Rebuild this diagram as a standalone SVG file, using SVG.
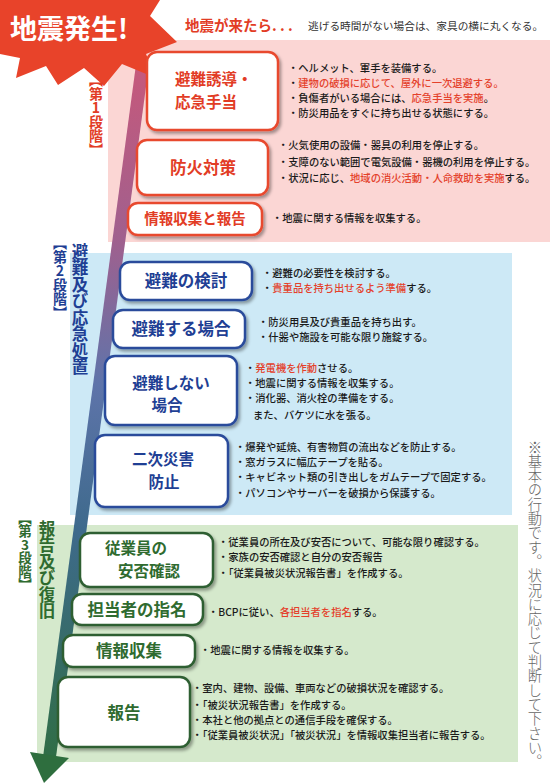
<svg xmlns="http://www.w3.org/2000/svg" width="550" height="783" viewBox="0 0 550 783">
<defs>
<style>
text{font-family:"Noto Sans CJK JP","Noto Sans CJK SC",sans-serif;}
.b{font-size:10.3px;fill:#1a1a1a;font-weight:500;}
.r{fill:#e4412b;}
.lbl{font-size:16.5px;font-weight:700;text-anchor:middle;}
.l2{font-size:15.5px;font-weight:700;}
.mid{text-anchor:middle;}
.lr{fill:#e23c25;}
.lb{fill:#1f3f94;}
.lg{fill:#2f6b2f;}
.box{fill:#fff;stroke-width:2.5;filter:url(#sh);}
.br{stroke:#e8482e;}
.bb{stroke:#2b4c9b;}
.bg{stroke:#2f5f33;}
.ul{stroke-width:2;fill:none;filter:url(#ls);}
.ur{stroke:#e0402a;}
.ub{stroke:#3a5aa8;}
.ug{stroke:#2d5a2d;}
.vt{writing-mode:vertical-rl;text-orientation:upright;font-weight:700;}
</style>
<filter id="sh" x="-10%" y="-10%" width="130%" height="140%">
<feDropShadow dx="2" dy="2.5" stdDeviation="1.5" flood-color="#000" flood-opacity="0.35"/>
</filter>
<filter id="ls" x="-5%" y="-200%" width="110%" height="600%">
<feDropShadow dx="1" dy="2" stdDeviation="1.2" flood-color="#000" flood-opacity="0.35"/>
</filter>
<linearGradient id="ag" gradientUnits="userSpaceOnUse" x1="0" y1="58" x2="0" y2="783">
<stop offset="0" stop-color="#c8587a"/>
<stop offset="0.25" stop-color="#a0608e"/>
<stop offset="0.45" stop-color="#5e74aa"/>
<stop offset="0.65" stop-color="#3e6a8c"/>
<stop offset="1" stop-color="#2e6e3e"/>
</linearGradient>
</defs>

<rect width="550" height="783" fill="#fff"/>

<!-- panels -->
<rect x="108" y="40" width="442" height="202" fill="#fbd6d4"/>
<rect x="70" y="253" width="442" height="262" fill="#cde9f6"/>
<rect x="37" y="525" width="481" height="237" fill="#d5e9cc"/>

<!-- connectors: flow arrow -->
<g id="connectors">
<polygon points="137,57 150,57 56,757 43,757" fill="url(#ag)"/>
<polygon points="30,752 69,758 44,783" fill="#2e6e3e"/>
</g>

<!-- burst -->
<g id="burst">
<polygon points="0,0 160,0 150,16 177,42 146,54 156,78 122,64 104,86 84,68 58,85 46,66 16,78 20,58 0,54" fill="#e8432a"/>
<text x="10" y="39" font-size="27" font-weight="700" fill="#fff">地震発生!</text>
</g>

<g id="header">
<text x="185" y="31" font-size="14.5" font-weight="700" fill="#e23c25">地震が来たら. . .</text>
<text x="308" y="30" font-size="10.7" fill="#333">逃げる時間がない場合は、家具の横に丸くなる。</text>
</g>

<!-- stage labels -->
<g id="stage1">
<text class="vt" x="96" y="73" font-size="14" fill="#e23c25">【第1段階】</text>
</g>
<g id="stage2">
<text class="vt" x="60" y="236" font-size="14" fill="#1f3f94">【第2段階】</text>
<text class="vt" x="80" y="243" font-size="16.5" fill="#1f3f94">避難及び応急処置</text>
</g>
<g id="stage3">
<text class="vt" x="25" y="511" font-size="13.5" fill="#2f6b2f">【第3段階】</text>
<text class="vt" x="47" y="520" font-size="16.5" fill="#2f6b2f">報告及び復旧</text>
</g>

<!-- underlines -->
<g id="underlines">
<line class="ul ur" x1="270" y1="125" x2="513" y2="125"/>
<line class="ul ur" x1="260" y1="191" x2="542" y2="191"/>
<line class="ul ur" x1="255" y1="230" x2="438" y2="230"/>
<line class="ul ub" x1="245" y1="297" x2="457" y2="297"/>
<line class="ul ub" x1="238" y1="347" x2="462" y2="347"/>
<line class="ul ub" x1="230" y1="423" x2="403" y2="423"/>
<line class="ul ub" x1="220" y1="502" x2="488" y2="502"/>
<line class="ul ug" x1="205" y1="583" x2="488" y2="583"/>
<line class="ul ug" x1="195" y1="623" x2="398" y2="623"/>
<line class="ul ug" x1="188" y1="661" x2="380" y2="661"/>
<line class="ul ug" x1="182" y1="744" x2="502" y2="744"/>
</g>

<!-- stage 1 nodes -->
<g id="n1">
<rect class="box br" x="147" y="52" width="131" height="78" rx="10"/>
<text class="l2 lr" x="175" y="85">避難誘導・</text>
<text class="l2 lr" x="175" y="107.5">応急手当</text>
<text class="b" x="288" y="72">・ヘルメット、軍手を装備する。</text>
<text class="b" x="288" y="87">・<tspan class="r">建物の破損に応じて、屋外に一次退避する。</tspan></text>
<text class="b" x="288" y="102">・負傷者がいる場合には、<tspan class="r">応急手当を実施</tspan>。</text>
<text class="b" x="288" y="117">・防災用品をすぐに持ち出せる状態にする。</text>
</g>
<g id="n2">
<rect class="box br" x="137" y="140" width="131" height="55" rx="10"/>
<text class="lbl lr" x="203" y="174">防火対策</text>
<text class="b" x="278" y="149">・火気使用の設備・器具の利用を停止する。</text>
<text class="b" x="278" y="165.5">・支障のない範囲で電気設備・器機の利用を停止する。</text>
<text class="b" x="278" y="182">・状況に応じ、<tspan class="r">地域の消火活動・人命救助を実施</tspan>する。</text>
</g>
<g id="n3">
<rect class="box br" x="128" y="203" width="134" height="32" rx="10"/>
<text class="lbl lr" x="195" y="224" style="font-size:14.5px">情報収集と報告</text>
<text class="b" x="272" y="222">・地震に関する情報を収集する。</text>
</g>

<!-- stage 2 nodes -->
<g id="n4">
<rect class="box bb" x="120" y="262" width="132" height="38" rx="10"/>
<text class="lbl lb" x="186" y="287">避難の検討</text>
<text class="b" x="262" y="277">・避難の必要性を検討する。</text>
<text class="b" x="262" y="292">・<tspan class="r">貴重品を持ち出せるよう準備</tspan>する。</text>
</g>
<g id="n5">
<rect class="box bb" x="113" y="310" width="132" height="38" rx="10"/>
<text class="lbl lb" x="181" y="335">避難する場合</text>
<text class="b" x="258" y="326">・防災用具及び貴重品を持ち出す。</text>
<text class="b" x="258" y="341">・什器や施設を可能な限り施錠する。</text>
</g>
<g id="n6">
<rect class="box bb" x="105" y="356" width="132" height="69" rx="10"/>
<text class="l2 mid lb" x="171" y="388.5">避難しない</text>
<text class="l2 mid lb" x="167" y="411">場合</text>
<text class="b" x="245" y="372">・<tspan class="r">発電機を作動</tspan>させる。</text>
<text class="b" x="245" y="387">・地震に関する情報を収集する。</text>
<text class="b" x="245" y="402">・消化器、消火栓の準備をする。</text>
<text class="b" x="253" y="419">また、バケツに水を張る。</text>
</g>
<g id="n7">
<rect class="box bb" x="95" y="435" width="133" height="72" rx="10"/>
<text class="l2 mid lb" x="163" y="465">二次災害</text>
<text class="l2 mid lb" x="164" y="487.5">防止</text>
<text class="b" x="235" y="451">・爆発や延焼、有害物質の流出などを防止する。</text>
<text class="b" x="235" y="466">・窓ガラスに幅広テープを貼る。</text>
<text class="b" x="235" y="481">・キャビネット類の引き出しをガムテープで固定する。</text>
<text class="b" x="235" y="497">・パソコンやサーバーを破損から保護する。</text>
</g>

<!-- stage 3 nodes -->
<g id="n8">
<rect class="box bg" x="80" y="533" width="133" height="54" rx="10"/>
<text class="l2 lg" x="105" y="554">従業員の</text>
<text class="l2 lg" x="118" y="576.5">安否確認</text>
<text class="b" x="218" y="546">・従業員の所在及び安否について、可能な限り確認する。</text>
<text class="b" x="218" y="561">・家族の安否確認と自分の安否報告</text>
<text class="b" x="218" y="577">・「従業員被災状況報告書」を作成する。</text>
</g>
<g id="n9">
<rect class="box bg" x="72" y="594" width="131" height="31" rx="10"/>
<text class="lbl lg" x="137" y="616">担当者の指名</text>
<text class="b" x="208" y="616">・BCPに従い、<tspan class="r">各担当者を指名</tspan>する。</text>
</g>
<g id="n10">
<rect class="box bg" x="63" y="635" width="132" height="32" rx="10"/>
<text class="lbl lg" x="129" y="657">情報収集</text>
<text class="b" x="200" y="654">・地震に関する情報を収集する。</text>
</g>
<g id="n11">
<rect class="box bg" x="58" y="677" width="132" height="70" rx="10"/>
<text class="lbl lg" x="124" y="719">報告</text>
<text class="b" x="192" y="692">・室内、建物、設備、車両などの破損状況を確認する。</text>
<text class="b" x="192" y="709">・「被災状況報告書」を作成する。</text>
<text class="b" x="192" y="724">・本社と他の拠点との通信手段を確保する。</text>
<text class="b" x="192" y="739">・「従業員被災状況」「被災状況」を情報収集担当者に報告する。</text>
</g>

<g id="note">
<text x="535" y="440" font-size="14.3" fill="#666" font-weight="300" style="writing-mode:vertical-rl">※基本の行動です。状況に応じて判断して下さい。</text>
</g>
</svg>
